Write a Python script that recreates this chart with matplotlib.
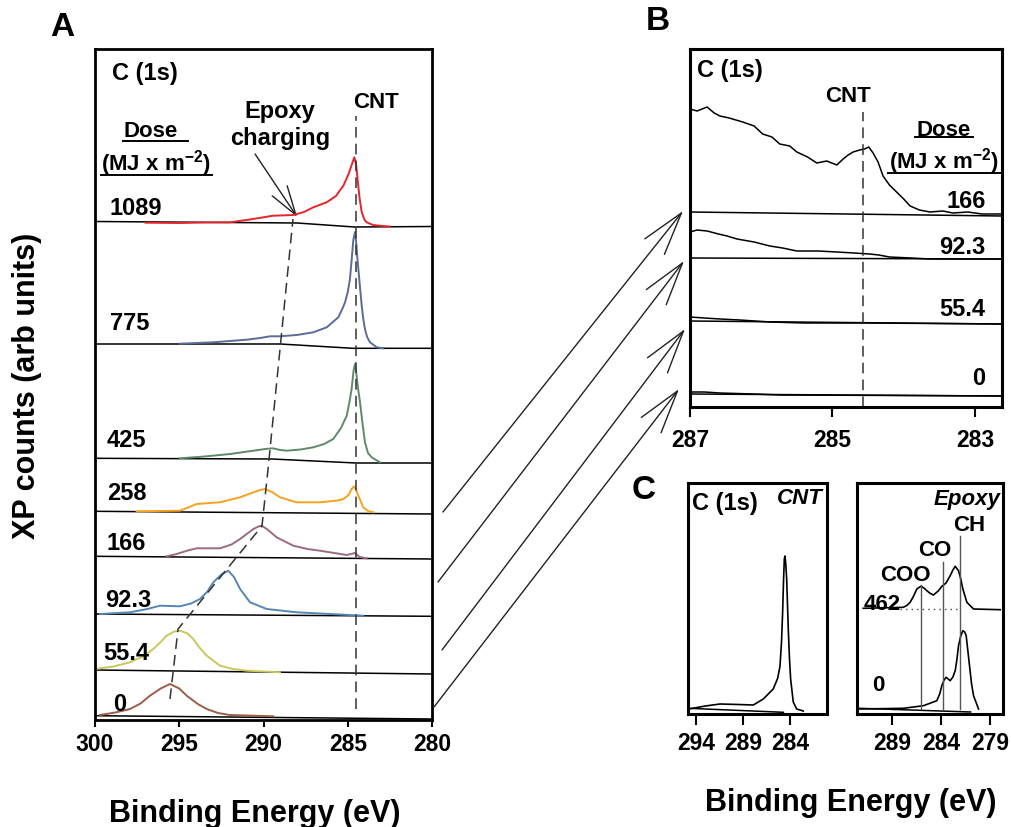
import matplotlib
matplotlib.use("Agg")
import matplotlib.pyplot as plt
from matplotlib.patches import FancyArrowPatch

plt.rcParams['font.family'] = ['Liberation Sans', 'DejaVu Sans']
plt.rcParams['font.weight'] = 'bold'
plt.rcParams['mathtext.fontset'] = 'custom'
plt.rcParams['mathtext.rm'] = 'Liberation Sans:bold'
plt.rcParams['mathtext.bf'] = 'Liberation Sans:bold'
plt.rcParams['mathtext.it'] = 'Liberation Sans:bold:italic'

W, H = 1012, 828

# ---------------- panel A: C(1s) spectra for each dose (eV, arb. counts) ----------------
doses_a = ["1089", "775", "425", "258", "166", "92.3", "55.4", "0"]
colors_a = ["#e3262c", "#5a6c98", "#5f8a69", "#f5a21f", "#9b6a83", "#5686b3", "#c8c85c", "#9c5c4a"]

e_1089 = [297.0, 295.0, 293.5, 291.99, 290.8, 290.01, 289.42, 288.23, 287.6, 287.04, 286.25, 285.7,
          285.26, 284.95, 284.75, 284.61, 284.5, 284.4, 284.3, 284.17, 284.0, 283.88, 283.5, 283.09, 282.5]
y_1089 = [497.3, 497.0, 497.5, 497.7, 500.5, 502.7, 504.3, 505.0, 508.0, 512.7, 517.7, 524.0,
          534.3, 546.0, 556.0, 562.7, 555.0, 538.0, 522.0, 507.7, 500.0, 497.7, 495.0, 494.3, 493.5]
e_775 = [294.96, 292.98, 291.0, 290.2, 289.61, 289.02, 288.03, 287.04, 286.25, 285.56, 285.3, 285.16,
         285.0, 284.87, 284.77, 284.67, 284.57, 284.5, 284.43, 284.37, 284.27, 284.17, 284.07, 283.98,
         283.85, 283.68, 283.28, 282.89]
y_775 = [376.3, 377.7, 380.3, 382.0, 383.7, 383.7, 385.0, 387.7, 392.7, 402.7, 412.0, 417.7,
         428.0, 441.0, 460.0, 480.0, 488.0, 478.0, 462.0, 451.0, 432.0, 414.3, 400.0, 391.0,
         383.0, 377.7, 372.7, 371.7]
e_425 = [294.96, 293.5, 291.99, 290.6, 289.9, 289.46, 289.0, 288.63, 287.8, 287.04, 286.4, 285.86,
         285.4, 285.06, 284.9, 284.77, 284.65, 284.57, 284.5, 284.4, 284.27, 284.12, 283.98, 283.8,
         283.58, 283.09]
y_425 = [261.7, 263.5, 266.0, 269.3, 271.0, 271.7, 270.0, 269.3, 270.5, 272.7, 276.0, 281.0,
         292.0, 304.3, 318.0, 331.0, 350.0, 356.0, 348.0, 333.0, 317.7, 296.0, 277.7, 267.0,
         262.7, 257.7]
e_258 = [297.53, 294.96, 294.4, 293.97, 292.58, 291.39, 290.6, 290.2, 289.91, 289.5, 289.02, 288.03,
         286.65, 285.6, 285.26, 284.95, 284.77, 284.63, 284.5, 284.37, 284.08, 283.8, 283.48]
y_258 = [208.7, 209.3, 213.0, 216.0, 217.7, 222.7, 227.7, 230.0, 231.0, 228.0, 222.7, 217.7,
         217.7, 219.5, 221.0, 225.0, 231.0, 233.7, 230.0, 224.3, 212.7, 209.0, 207.7]
e_166 = [295.75, 295.15, 294.5, 293.96, 292.58, 291.9, 291.39, 290.6, 290.3, 290.11, 289.8, 289.22,
         288.23, 287.4, 286.65, 285.06, 284.57, 284.3, 283.88]
y_166 = [163.7, 166.0, 169.5, 171.7, 171.7, 175.5, 181.0, 191.0, 193.5, 194.3, 191.0, 182.7,
         174.3, 171.0, 169.3, 165.0, 167.0, 163.0, 161.7]
e_92 = [299.7, 297.92, 296.9, 296.14, 294.96, 294.3, 293.77, 293.35, 292.98, 292.5, 292.09, 291.75,
        291.39, 290.8, 289.81, 288.03, 286.05, 284.08]
y_92 = [106.0, 107.7, 111.0, 114.3, 113.7, 116.5, 121.0, 128.0, 137.7, 145.5, 149.3, 143.0,
        131.0, 117.7, 111.0, 107.7, 106.0, 104.3]
e_55 = [300.0, 298.9, 297.92, 297.1, 296.54, 296.1, 295.75, 295.3, 294.96, 294.5, 294.17, 293.8,
        293.37, 292.58, 291.8, 291.0, 289.02]
y_55 = [51.0, 53.5, 57.7, 64.0, 71.0, 78.0, 84.3, 88.5, 89.3, 86.5, 81.0, 72.5,
        64.3, 54.3, 51.0, 49.3, 47.7]
e_0 = [299.7, 298.8, 297.92, 297.3, 296.74, 296.1, 295.55, 295.0, 294.56, 293.9, 293.37, 292.7,
       292.0, 289.42]
y_0 = [5.0, 7.5, 11.0, 16.5, 24.3, 31.5, 36.0, 31.5, 24.3, 16.0, 11.0, 7.0,
       5.0, 3.7]

# background (baseline) line under each spectrum
bg_e_1089 = [300, 288, 284.6, 280]
bg_y_1089 = [498.5, 497, 493, 493.5]
bg_e_775 = [300, 289, 284.7, 280]
bg_y_775 = [376, 376, 371.7, 371.7]
bg_e_425 = [300, 289.5, 284.5, 280]
bg_y_425 = [261.7, 261, 257, 257]
bg_e_lin = [300, 280]
bg_y_258 = [208.7, 206]
bg_y_166 = [163.7, 161]
bg_y_92 = [106, 103.7]
bg_y_55 = [50, 46]
bg_y_0 = [4.3, 1]

# epoxy charging shift, through the epoxy peak of each dose
shift_e = [295.55, 295.07, 290.09, 289.73, 288.25]
shift_y = [21, 91, 194, 251, 501]
cnt_e = 284.5

# ---------------- panel B: zoom near CNT peak, low doses ----------------
doses_b = ["166", "92.3", "55.4", "0"]
b_e_166 = [287.0, 286.9, 286.76, 286.66, 286.58, 286.45, 286.26, 286.1, 285.98, 285.85, 285.74, 285.6,
           285.5, 285.35, 285.22, 285.08, 284.94, 284.85, 284.78, 284.71, 284.62, 284.55, 284.49,
           284.43, 284.36, 284.29, 284.2, 284.1, 284.0, 283.91, 283.78, 283.63, 283.45, 283.31,
           283.1, 282.9, 282.62]
b_y_166 = [298, 296, 300, 294, 291, 289, 285, 281, 273, 270, 263, 261,
           255, 250, 244, 246, 242, 248, 252, 255, 257, 258, 260,
           254, 245, 231, 222, 215, 208, 201, 197, 195, 196, 194,
           195, 193, 193]
b_e_92 = [287.0, 286.9, 286.76, 286.6, 286.48, 286.34, 286.1, 285.88, 285.7, 285.5, 285.2, 284.94,
          284.7, 284.48, 284.35, 284.2, 283.9, 283.63, 283.2, 282.62]
b_y_92 = [175, 177, 176, 173, 171, 168, 165, 161, 159, 156, 156, 155,
          154, 153, 152, 150, 149, 148, 148, 148]
b_e_55 = [287.0, 286.8, 286.58, 286.3, 285.88, 285.4, 284.5, 282.62]
b_y_55 = [90, 89, 88, 87, 85, 84, 84, 83]
b_e_0 = [287.0, 286.8, 286.58, 286.1, 285.74, 284.0, 282.62]
b_y_0 = [15, 15, 14, 13, 12, 11.5, 11]
b_bg_e = [287.0, 282.62]
b_bg_166 = [195, 191]
b_bg_92 = [149, 148]
b_bg_55 = [86, 83]
b_bg_0 = [13, 11]
b_cnt_e = 284.57

# ---------------- panel C: references (CNT, epoxy) ----------------
c_cnt_e = [294.8, 293.0, 291.45, 289.5, 287.9, 286.84, 285.78, 285.3, 285.06, 284.9, 284.78, 284.68,
           284.6, 284.53, 284.45, 284.35, 284.18, 284.05, 283.93, 283.65, 283.29, 282.58]
c_cnt_y = [5, 8, 10, 9.5, 9, 15, 25, 36, 48, 72, 102, 135,
           155, 158, 150, 135, 85, 55, 35, 12, 5, 3]
c_cnt_bg_e = [294.8, 284.7]
c_cnt_bg_y = [5.7, 1.7]

ep_462_e = [291.93, 287.85, 287.5, 287.16, 286.8, 286.48, 286.07, 285.75, 285.46, 285.1, 284.78, 284.3,
            283.93, 283.5, 283.08, 282.8, 282.57, 282.23, 282.0, 281.79, 281.38, 280.7, 277.98]
ep_462_y = [105.7, 106.7, 108.5, 111.7, 118.0, 125, 127.7, 126.0, 123.3, 120.5, 119, 123.0,
            127.7, 131.0, 138.3, 144.0, 147.7, 143.3, 135.0, 125, 111.7, 105, 104.3]
ep_0_e = [292.27, 287.85, 285.8, 284.44, 284.15, 283.93, 283.7, 283.49, 283.08, 282.8, 282.57, 282.4,
          282.23, 282.0, 281.79, 281.6, 281.45, 281.11, 280.9, 280.7, 280.19]
ep_0_y = [5, 5.7, 8.3, 13.3, 20.0, 28.3, 34.0, 36.7, 33.3, 37.0, 43.3, 54.0,
          68.3, 78.0, 83.3, 82.0, 78.3, 48.3, 30.0, 18.3, 5]
ep_bg_e = [292.3, 281.0]
ep_bg_y = [5.7, 2.0]
comp_names = ["COO", "CO", "CH"]
comp_e = [286.04, 283.8, 282.06]
comp_top = [129, 152, 178]


def px_axes(fig, left, top, right, bottom):
    return fig.add_axes([left / W, 1 - bottom / H, (right - left) / W, (bottom - top) / H])


def fig_text(fig, x, y, s, **kw):
    fig.text(x / W, 1 - y / H, s, **kw)


def style_axes(ax, lw, ticklen):
    for sp in ax.spines.values():
        sp.set_linewidth(lw)
    ax.set_yticks([])
    ax.tick_params(axis='x', direction='out', length=ticklen, width=1.5, labelsize=16.5, pad=4)
    for lab in ax.get_xticklabels():
        lab.set_fontweight('bold')


fig = plt.figure(figsize=(W / 100, H / 100), dpi=100)

# ---- A ----
axA = px_axes(fig, 95, 50, 432, 721)
axA.set_xlim(300, 280)
axA.set_ylim(0, 671)
axA.set_xticks([300, 295, 290, 285, 280])
style_axes(axA, 2.0, 5)

spec_e = [e_1089, e_775, e_425, e_258, e_166, e_92, e_55, e_0]
spec_y = [y_1089, y_775, y_425, y_258, y_166, y_92, y_55, y_0]
bg_e = [bg_e_1089, bg_e_775, bg_e_425, bg_e_lin, bg_e_lin, bg_e_lin, bg_e_lin, bg_e_lin]
bg_y = [bg_y_1089, bg_y_775, bg_y_425, bg_y_258, bg_y_166, bg_y_92, bg_y_55, bg_y_0]
for e, y, be, by, c in zip(spec_e, spec_y, bg_e, bg_y, colors_a):
    axA.plot(be, by, color='black', lw=1.1)
    axA.plot(e, y, color=c, lw=1.4, solid_joinstyle='round')

axA.plot([cnt_e, cnt_e], [11, 604], color='#333333', lw=1.1, dashes=(7, 4))
axA.plot(shift_e, shift_y, color='#333333', lw=1.1, dashes=(7, 4))

label_x = [299.11, 299.11, 299.29, 299.29, 299.29, 299.41, 299.53, 298.93]
label_y = [512, 397, 280, 227, 177, 120, 67, 16]
for d, lx, ly in zip(doses_a, label_x, label_y):
    axA.text(lx, ly, d, ha='left', va='center', fontsize=17, fontweight='bold')

axA.text(298.99, 647, "C (1s)", ha='left', va='center', fontsize=17, fontweight='bold')
axA.text(289.02, 609, "Epoxy", ha='center', va='center', fontsize=17, fontweight='bold')
axA.text(289.02, 582, "charging", ha='center', va='center', fontsize=17, fontweight='bold')
axA.text(283.32, 618, "CNT", ha='center', va='center', fontsize=16, fontweight='bold')
axA.text(296.68, 589, "Dose", ha='center', va='center', fontsize=16, fontweight='bold')
axA.plot([298.34, 294.48], [579, 579], color='black', lw=1.4)
axA.text(296.38, 557, r"(MJ x m$^{-2}$)", ha='center', va='center', fontsize=16, fontweight='bold')
axA.plot([299.64, 293.06], [545, 545], color='black', lw=1.4)
axA.add_patch(FancyArrowPatch((290.5, 566), (288.0, 503), arrowstyle='->,head_length=21,head_width=6.5',
                              mutation_scale=1, shrinkA=0, shrinkB=0, lw=1.0, color='#222222'))

# ---- B ----
axB = px_axes(fig, 690, 50, 1002, 408)
axB.set_xlim(287, 282.62)
axB.set_ylim(0, 358)
axB.set_xticks([287, 285, 283])
style_axes(axB, 2.2, 7)
axB.tick_params(axis='x', pad=8)

b_e = [b_e_166, b_e_92, b_e_55, b_e_0]
b_y = [b_y_166, b_y_92, b_y_55, b_y_0]
b_bg = [b_bg_166, b_bg_92, b_bg_55, b_bg_0]
for e, y, bg in zip(b_e, b_y, b_bg):
    axB.plot(b_bg_e, bg, color='black', lw=1.1)
    axB.plot(e, y, color='black', lw=1.1)
axB.plot([b_cnt_e, b_cnt_e], [0, 295], color='#333333', lw=1.1, dashes=(7, 4))

axB.text(286.90, 337, "C (1s)", ha='left', va='center', fontsize=17, fontweight='bold')
axB.text(284.78, 311, "CNT", ha='center', va='center', fontsize=16, fontweight='bold')
axB.text(283.44, 278, "Dose", ha='center', va='center', fontsize=16, fontweight='bold')
axB.plot([283.84, 283.03], [270, 270], color='black', lw=1.4)
axB.text(283.44, 246, r"(MJ x m$^{-2}$)", ha='center', va='center', fontsize=16, fontweight='bold')
axB.plot([284.22, 282.65], [234, 234], color='black', lw=1.4)
for d, ly in zip(doses_b, [207, 161, 99, 29]):
    axB.text(282.85, ly, d, ha='right', va='center', fontsize=17, fontweight='bold')

# ---- C ----
axC1 = px_axes(fig, 688, 484, 827, 715)
axC1.set_xlim(294.85, 280.06)
axC1.set_ylim(0, 231)
axC1.set_xticks([294, 289, 284])
style_axes(axC1, 2.2, 8)
axC1.plot(c_cnt_bg_e, c_cnt_bg_y, color='black', lw=1.1)
axC1.plot(c_cnt_e, c_cnt_y, color='black', lw=1.2)
axC1.text(294.43, 211, "C (1s)", ha='left', va='center', fontsize=17, fontweight='bold')
axC1.text(282.94, 216, "CNT", ha='center', va='center', fontsize=16, fontweight='bold', style='italic')

axC2 = px_axes(fig, 857, 484, 1003, 715)
axC2.set_xlim(292.57, 277.7)
axC2.set_ylim(0, 231)
axC2.set_xticks([289, 284, 279])
style_axes(axC2, 2.2, 8)
axC2.plot(ep_bg_e, ep_bg_y, color='black', lw=1.1)
axC2.plot(ep_0_e, ep_0_y, color='black', lw=1.2)
axC2.plot(ep_462_e, ep_462_y, color='black', lw=1.2)
axC2.plot([288.2, 282.1], [105, 105], color='#444444', lw=1.0, ls=(0, (1, 3)))
for name, ce, ct in zip(comp_names, comp_e, comp_top):
    axC2.plot([ce, ce], [5, ct], color='#555555', lw=1.0)
axC2.text(287.67, 139, "COO", ha='center', va='center', fontsize=16, fontweight='bold')
axC2.text(284.61, 164, "CO", ha='center', va='center', fontsize=16, fontweight='bold')
axC2.text(281.14, 189, "CH", ha='center', va='center', fontsize=16, fontweight='bold')
axC2.text(281.35, 215, "Epoxy", ha='center', va='center', fontsize=16, fontweight='bold', style='italic')
axC2.text(290.02, 110, "462", ha='center', va='center', fontsize=16, fontweight='bold')
axC2.text(290.43, 29, "0", ha='center', va='center', fontsize=16, fontweight='bold')

# ---- arrows linking A to B ----
for (x0, y0), (x1, y1) in [((443, 513), (683, 212)), ((438, 583), (684, 262)),
                           ((442, 651), (685, 330)), ((434, 708), (679, 390))]:
    fig.add_artist(FancyArrowPatch((x0 / W, 1 - y0 / H), (x1 / W, 1 - y1 / H),
                                   transform=fig.transFigure, arrowstyle='->,head_length=31,head_width=9',
                                   mutation_scale=1, shrinkA=0, shrinkB=0, lw=1.0, color='#222222'))

# ---- panel letters and axis titles ----
fig_text(fig, 62, 28, "A", ha='center', va='center', fontsize=24, fontweight='bold')
fig_text(fig, 658, 22, "B", ha='center', va='center', fontsize=24, fontweight='bold')
fig_text(fig, 644, 491, "C", ha='center', va='center', fontsize=24, fontweight='bold')
fig_text(fig, 27, 386, "XP counts (arb units)", ha='center', va='center', rotation=90,
         fontsize=22, fontweight='bold')
fig_text(fig, 255, 814, "Binding Energy (eV)", ha='center', va='center', fontsize=22, fontweight='bold')
fig_text(fig, 851, 803, "Binding Energy (eV)", ha='center', va='center', fontsize=22, fontweight='bold')

fig.savefig("out.png", dpi=100)
